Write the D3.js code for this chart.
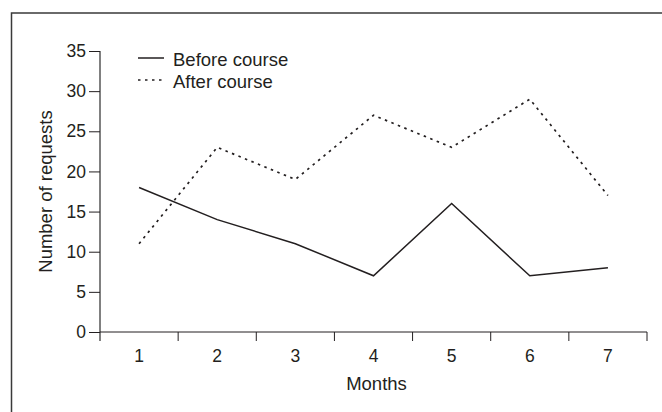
<!DOCTYPE html>
<html><head><meta charset="utf-8">
<script src="https://cdn.jsdelivr.net/npm/d3@7"></script>
<style>body{margin:0;background:#fff}svg{display:block}text{font-family:"Liberation Sans",Arial,sans-serif;fill:#231f20}</style>
</head><body><svg id="c" width="662" height="412"></svg>
<script>
const months = ["1","2","3","4","5","6","7"];
const beforeCourse = [18,14,11,7,16,7,8];
const afterCourse = [11,23,19,27,23,29,17];
const yTicks = [0,5,10,15,20,25,30,35];
const seriesNames = ["Before course","After course"];

const FS = 17.5;
const svg = d3.select("#c");
const m = {l:100, r:647, t:51, b:332};
const x = d3.scaleBand().domain(months).range([m.l, m.r]);
const y = d3.scaleLinear().domain([0,35]).range([m.b, m.t]);
const ink = "#231f20";

// frame
svg.append("path").attr("d","M11.5,412 L11.5,13 L662,13").attr("fill","none").attr("stroke","#3a3a3a").attr("stroke-width",1.5);

// y axis
const ya = svg.append("g").attr("transform",`translate(${m.l},0)`)
  .call(d3.axisLeft(y).tickValues(yTicks).tickSize(11).tickPadding(3));
ya.select(".domain").attr("stroke","#808080").attr("stroke-width",2).attr("d",`M0,${m.t}V${m.b+9}`);
ya.selectAll(".tick line").attr("stroke",ink);
ya.selectAll("text").attr("font-size",FS).style("fill",ink).attr("font-family",null);

// x axis
const xa = svg.append("g").attr("transform",`translate(0,${m.b})`)
  .call(d3.axisBottom(x).tickSize(0).tickPadding(18));
xa.select(".domain").attr("stroke",ink).attr("d",`M${m.l},0H${m.r}`);
xa.selectAll("text").attr("font-size",FS).style("fill",ink).attr("font-family",null);
const bounds = months.map(d=>x(d)).concat([x(months[months.length-1])+x.bandwidth()]);
xa.selectAll(".bt").data(bounds.slice(1)).enter().append("line")
  .attr("x1",d=>d).attr("x2",d=>d).attr("y1",0).attr("y2",9).attr("stroke",ink);

// axis titles
svg.append("text").attr("x",(m.l+m.r)/2+3).attr("y",390).attr("text-anchor","middle").attr("font-size",18.5).text("Months");
svg.append("text").attr("transform",`translate(52,${(m.t+m.b)/2}) rotate(-90)`).attr("text-anchor","middle").attr("font-size",18.5).text("Number of requests");

const line = d3.line().x((d,i)=>x(months[i])+x.bandwidth()/2).y(d=>y(d));
svg.append("path").attr("d",line(beforeCourse)).attr("fill","none").attr("stroke",ink).attr("stroke-width",1.5);
svg.append("path").attr("d",line(afterCourse)).attr("fill","none").attr("stroke",ink).attr("stroke-width",1.7).attr("stroke-dasharray","2.5,4.5");

// legend
const lg = svg.append("g");
[0,1].forEach(i=>{
  const base = 66 + i*22;
  lg.append("line").attr("x1",138).attr("x2",164).attr("y1",base-8).attr("y2",base-8).attr("stroke",ink)
    .attr("stroke-width", i?1.7:1.5).attr("stroke-dasharray", i? "2.5,4.5":null);
  lg.append("text").attr("x",173).attr("y",base).attr("font-size",18.5).text(seriesNames[i]);
});
</script></body></html>
